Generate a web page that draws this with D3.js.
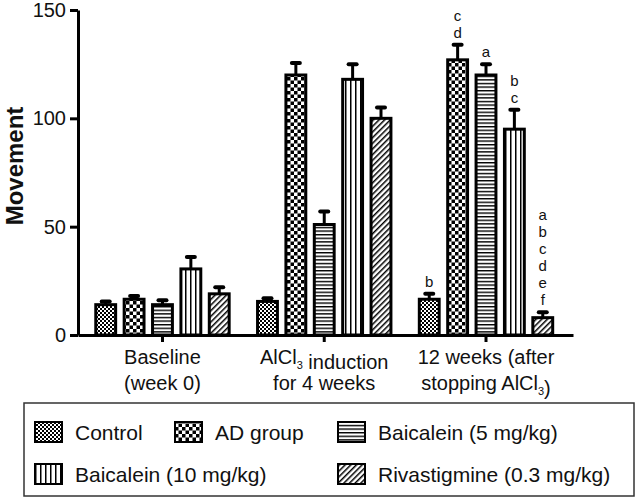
<!DOCTYPE html>
<html><head><meta charset="utf-8">
<script src="https://cdn.jsdelivr.net/npm/d3@7"></script>
<style>
body{margin:0;background:#fff;}
text{font-family:"Liberation Sans",Arial,Helvetica,sans-serif;fill:#111;}
</style></head>
<body><svg id="c" width="636" height="500"></svg>
<script>
// ---- data ----
const categories = ["baseline", "induction", "after"];
const categoryLine1 = ["Baseline", "AlCl₃ induction", "12 weeks (after"];
const categoryLine2 = ["(week 0)", "for 4 weeks", "stopping AlCl₃)"];
const seriesNames = ["Control", "AD group", "Baicalein (5 mg/kg)", "Baicalein (10 mg/kg)", "Rivastigmine (0.3 mg/kg)"];
const controlMean = [14, 15.5, 16.5];
const controlErr  = [1.5, 1.5, 2.5];
const adMean      = [16.5, 120, 127];
const adErr       = [1.5, 5.5, 7];
const baic5Mean   = [14, 51, 120];
const baic5Err    = [2, 6, 5];
const baic10Mean  = [30.5, 118, 95];
const baic10Err   = [5.5, 7, 9];
const rivaMean    = [19, 100, 8];
const rivaErr     = [3, 5, 2.5];
const controlLetters = ["", "", "b"];
const adLetters      = ["", "", "cd"];
const baic5Letters   = ["", "", "a"];
const baic10Letters  = ["", "", "bc"];
const rivaLetters    = ["", "", "abcdef"];
const yTicks = [0, 50, 100, 150];
const yLabel = "Movement";

const means = [controlMean, adMean, baic5Mean, baic10Mean, rivaMean];
const errs = [controlErr, adErr, baic5Err, baic10Err, rivaErr];
const letters = [controlLetters, adLetters, baic5Letters, baic10Letters, rivaLetters];
const patternIds = ["pCtrl", "pAD", "pB5", "pB10", "pRiva"];

const svg = d3.select("#c");
const defs = svg.append("defs");
let p = defs.append("pattern").attr("id","pCtrl").attr("patternUnits","userSpaceOnUse").attr("width",4).attr("height",4);
p.append("rect").attr("width",4).attr("height",4).attr("fill","#fff");
p.append("rect").attr("width",2).attr("height",2).attr("fill","#000");
p.append("rect").attr("x",2).attr("y",2).attr("width",2).attr("height",2).attr("fill","#000");
p = defs.append("pattern").attr("id","pAD").attr("patternUnits","userSpaceOnUse").attr("width",7).attr("height",7);
p.append("rect").attr("width",7).attr("height",7).attr("fill","#fff");
p.append("rect").attr("width",3.5).attr("height",3.5).attr("fill","#000");
p.append("rect").attr("x",3.5).attr("y",3.5).attr("width",3.5).attr("height",3.5).attr("fill","#000");
p = defs.append("pattern").attr("id","pB5").attr("patternUnits","userSpaceOnUse").attr("width",4).attr("height",3.6);
p.append("rect").attr("width",4).attr("height",3.6).attr("fill","#fff");
p.append("rect").attr("width",4).attr("height",1.4).attr("fill","#000");
p = defs.append("pattern").attr("id","pB10").attr("patternUnits","userSpaceOnUse").attr("width",5).attr("height",4);
p.append("rect").attr("width",5).attr("height",4).attr("fill","#fff");
p.append("rect").attr("width",1.5).attr("height",4).attr("fill","#000");
p = defs.append("pattern").attr("id","pRiva").attr("patternUnits","userSpaceOnUse").attr("width",4).attr("height",4).attr("patternTransform","rotate(45)");
p.append("rect").attr("width",4).attr("height",4).attr("fill","#fff");
p.append("rect").attr("width",1.5).attr("height",4).attr("fill","#000");

const x0 = d3.scaleBand().domain(categories).range([78, 573]).paddingInner(0).paddingOuter(0.03).align(0.37);
const x1 = d3.scaleBand().domain(d3.range(seriesNames.length)).range([0, x0.bandwidth()]).paddingInner(0.3).paddingOuter(0.5);
const y = d3.scaleLinear().domain([0, 150]).range([335, 10]);

const data = [];
categories.forEach((c, gi) => seriesNames.forEach((s, si) => {
  data.push({c, gi, si, v: means[si][gi], e: errs[si][gi], l: letters[si][gi]});
}));

const g = svg.append("g");
data.forEach(d => {
  const cx = x0(d.c) + x1(d.si) + x1.bandwidth()/2;
  g.append("line").attr("x1",cx).attr("x2",cx).attr("y1",y(d.v)).attr("y2",y(d.v+d.e)).attr("stroke","#000").attr("stroke-width",3);
  g.append("line").attr("x1",cx-4).attr("x2",cx+4).attr("y1",y(d.v+d.e)).attr("y2",y(d.v+d.e)).attr("stroke","#000").attr("stroke-width",4).attr("stroke-linecap","round");
});
g.selectAll("rect.bar").data(data).join("rect").attr("class","bar")
  .attr("x", d => x0(d.c) + x1(d.si))
  .attr("width", x1.bandwidth())
  .attr("y", d => y(d.v))
  .attr("height", d => y(0) - y(d.v))
  .attr("fill", d => `url(#${patternIds[d.si]})`)
  .attr("stroke", "#000").attr("stroke-width", 3);

data.forEach(d => {
  if (!d.l) return;
  const cx = x0(d.c) + x1(d.si) + x1.bandwidth()/2;
  const chars = d.l.split("");
  const n = chars.length;
  chars.forEach((ch, i) => {
    g.append("text").attr("x", cx).attr("y", y(d.v+d.e) - 7 - (n-1-i)*17)
      .attr("text-anchor","middle").attr("font-size",15).text(ch);
  });
});

const yAxis = svg.append("g").attr("transform","translate(78,0)")
  .call(d3.axisLeft(y).tickValues(yTicks).tickSize(8).tickSizeOuter(0).tickPadding(4));
yAxis.select(".domain").attr("stroke-width",3);
yAxis.selectAll(".tick line").attr("stroke-width",3);
yAxis.selectAll(".tick text").attr("font-size",20).attr("font-family","'Liberation Sans',Arial,sans-serif").attr("fill","#111");

const xAxis = svg.append("g").attr("transform","translate(0,335)")
  .call(d3.axisBottom(x0).tickSize(7).tickSizeOuter(0).tickFormat(""));
xAxis.select(".domain").attr("stroke-width",3);
xAxis.selectAll(".tick line").attr("stroke-width",3);

function subText(sel, str) {
  const parts = str.split("₃");
  parts.forEach((pt, i) => {
    if (pt) sel.append("tspan").text(pt);
    if (i < parts.length - 1) {
      sel.append("tspan").attr("font-size", 11).attr("dy", 5).text("3");
      sel.append("tspan").attr("dy", -5).text("");
    }
  });
}
categories.forEach((c, i) => {
  const cx = x0(c) + x0.bandwidth()/2;
  const t1 = svg.append("text").attr("x", cx).attr("y", 364).attr("text-anchor","middle").attr("font-size",20);
  subText(t1, categoryLine1[i]);
  const t2 = svg.append("text").attr("x", cx).attr("y", 390).attr("text-anchor","middle").attr("font-size",20);
  subText(t2, categoryLine2[i]);
});

svg.append("text").attr("transform","translate(23,166) rotate(-90)").attr("text-anchor","middle")
  .attr("font-size",24).attr("font-weight","bold").text(yLabel);

svg.append("rect").attr("x",24).attr("y",403).attr("width",610).attr("height",93)
  .attr("fill","none").attr("stroke","#333").attr("stroke-width",1.5);
const legendPos = [[34,432],[174,432],[337,432],[34,474],[337,474]];
seriesNames.forEach((s, i) => {
  const [lx, ly] = legendPos[i];
  svg.append("rect").attr("x",lx+1).attr("y",ly-10).attr("width",27).attr("height",20)
    .attr("fill",`url(#${patternIds[i]})`).attr("stroke","#000").attr("stroke-width",2);
  svg.append("text").attr("x",lx+41).attr("y",ly+7.5).attr("font-size",21).text(s);
});
</script></body></html>
